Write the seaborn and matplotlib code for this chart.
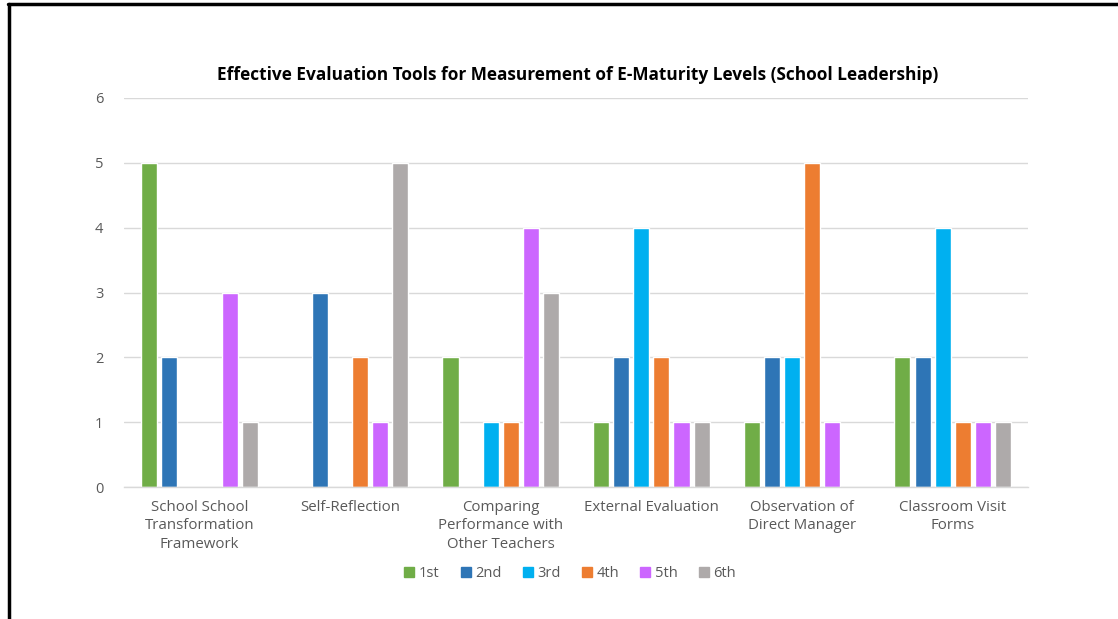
import matplotlib
matplotlib.use("Agg")
import matplotlib.pyplot as plt
from matplotlib.lines import Line2D
import seaborn as sns
import pandas as pd

categories = [
    "School School\nTransformation\nFramework",
    "Self-Reflection",
    "Comparing\nPerformance with\nOther Teachers",
    "External Evaluation",
    "Observation of\nDirect Manager",
    "Classroom Visit\nForms",
]
levels = ["1st", "2nd", "3rd", "4th", "5th", "6th"]
first = [5, 0, 2, 1, 1, 2]
second = [2, 3, 0, 2, 2, 2]
third = [0, 0, 1, 4, 2, 4]
fourth = [0, 2, 1, 2, 5, 1]
fifth = [3, 1, 4, 1, 1, 1]
sixth = [1, 5, 3, 1, 0, 1]
colors = ["#70AD47", "#2E75B6", "#00B0F0", "#ED7D31", "#CC66FF", "#AEAAAA"]

series = [first, second, third, fourth, fifth, sixth]
rows = []
for lvl, vals in zip(levels, series):
    for cat, v in zip(categories, vals):
        rows.append({"tool": cat, "level": lvl, "count": v})
df = pd.DataFrame(rows)

sns.set_style("white")
plt.rcParams["font.family"] = ["Open Sans", "DejaVu Sans"]

fig = plt.figure(figsize=(11.18, 6.19), dpi=100)
ax = fig.add_axes([0.111, 0.2132, 0.8085, 0.6285])

sns.barplot(data=df, x="tool", y="count", hue="level", order=categories,
            hue_order=levels, palette=colors, width=0.8, gap=0.2,
            saturation=1, errorbar=None, ax=ax, legend=False)

ax.set_ylim(0, 6)
ax.set_xlim(-0.5, len(categories) - 0.5)
ax.set_yticks(range(0, 7))
ax.yaxis.grid(True, color="#D9D9D9", linewidth=1)
ax.set_axisbelow(True)
for s in ["left", "right", "top"]:
    ax.spines[s].set_visible(False)
ax.spines["bottom"].set_color("#D9D9D9")
ax.spines["bottom"].set_linewidth(1)
ax.tick_params(axis="both", length=0, colors="#595959")
ax.tick_params(axis="y", pad=15, labelsize=10.5)
ax.tick_params(axis="x", pad=9, labelsize=10.8)
ax.set_xlabel("")
ax.set_ylabel("")
for lab in ax.get_xticklabels():
    lab.set_multialignment("center")
    lab.set_linespacing(1.36)

fig.text(0.517, 0.879, "Effective Evaluation Tools for Measurement of E-Maturity Levels (School Leadership)",
         ha="center", va="center", fontsize=12.4, fontweight="bold", color="#000000")

handles = [Line2D([0], [0], marker="s", linestyle="none", markersize=7,
                  markerfacecolor=c, markeredgecolor=c) for c in colors]
fig.legend(handles, levels, loc="center", bbox_to_anchor=(0.509, 0.074), ncol=6,
           frameon=False, fontsize=10.5, labelcolor="#595959", handletextpad=0.15,
           columnspacing=1.3, handlelength=1.0)

# frame lines on the left and top edge
fig.add_artist(Line2D([0.0078, 0.0078], [0, 0.993], transform=fig.transFigure,
                      color="black", linewidth=2.5))
fig.add_artist(Line2D([0.0068, 1.0], [0.993, 0.993], transform=fig.transFigure,
                      color="black", linewidth=2.5))

fig.savefig("out.png", dpi=100, facecolor="white")
